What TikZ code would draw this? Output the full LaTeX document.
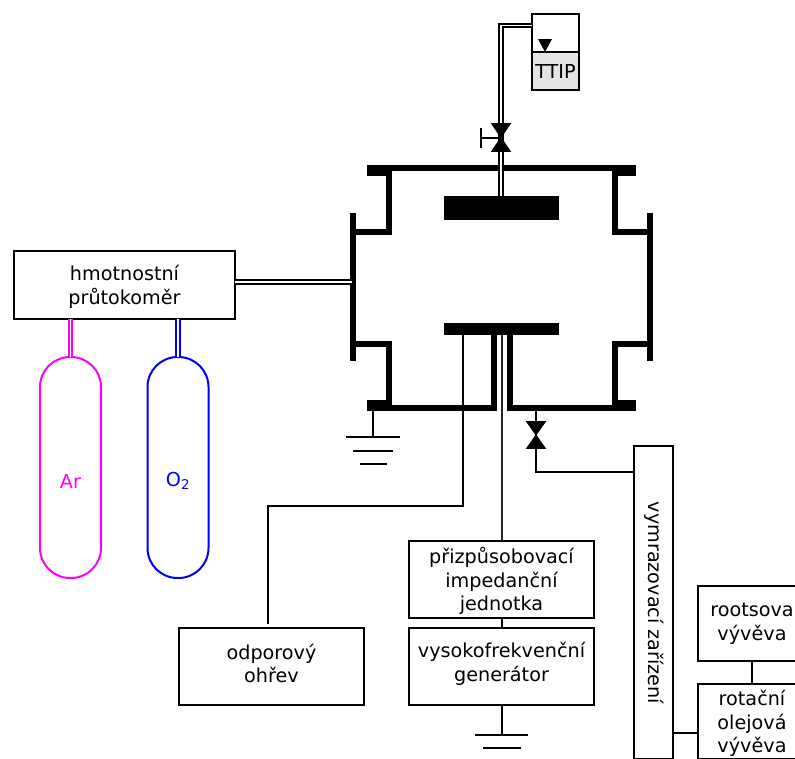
\documentclass[tikz,border=0pt]{standalone}
\usepackage{fontspec}
\setmainfont{DejaVu Sans}
\definecolor{mag}{RGB}{255,0,255}
\tikzset{
  txt/.style={font=\fontsize{19.2}{23.8}\selectfont},
  box/.style={draw,line width=2pt,minimum width=#1,inner sep=0pt,outer sep=0pt,align=center,txt,anchor=north west},
  boxtext/.style={label={[txt,align=center,yshift=#1]center:\boxbody}},
  wall/.style={line width=6pt,line cap=butt,line join=miter},
  pipe/.style={double=white,line width=2pt,double distance=1.7pt},
  thin/.style={line width=2pt},
  valve/.style={fill,draw,line width=0.8pt,line join=miter},
  bottle/.style={draw,line width=2pt,rounded corners=30pt,minimum width=61pt,minimum height=221pt,inner sep=0pt,outer sep=0pt,txt}
}
\begin{document}
\begin{tikzpicture}[x=1pt,y=-1pt]
\useasboundingbox (0,0) rectangle (795,758);
\clip (0,0) rectangle (795,758);
% chamber walls
\draw[wall] (367,168) -- (636,168);
\draw[wall] (367,173) -- (391,173);
\draw[wall] (612,173) -- (636,173);
\draw[wall] (388.5,168) -- (388.5,231.5) -- (353,231.5);
\draw[wall] (615,168) -- (615,231.5) -- (650,231.5);
\draw[wall] (353,213) -- (353,361);
\draw[wall] (650,213) -- (650,361);
\draw[wall] (353,343.5) -- (388.5,343.5) -- (388.5,407.5);
\draw[wall] (650,343.5) -- (615,343.5) -- (615,407.5);
\draw[wall] (367,407.5) -- (493.5,407.5) -- (493.5,333);
\draw[wall] (636,407.5) -- (509.5,407.5) -- (509.5,333);
\draw[wall] (367,402.5) -- (391,402.5);
\draw[wall] (612,402.5) -- (636,402.5);
% electrodes
\node[fill=black,minimum width=115pt,minimum height=24pt,inner sep=0pt,outer sep=0pt] (top) at (501.5,208) {};
\node[fill=black,minimum width=115pt,minimum height=12pt,inner sep=0pt,outer sep=0pt] (bot) at (501.5,329) {};
% tank
\node[box,minimum width=47pt,minimum height=76pt] (tank) at (532,14) {};
\node[box,fill=black!10,minimum width=47pt,minimum height=38pt] (ttip) at (532,52) {TTIP};
\fill (538,39) -- (552,39) -- (545,52) -- cycle;
% gas feed
\coordinate (tankin) at (532,25.5);
\coordinate (elev) at (501,25.5);
\draw[pipe] (tankin) -- (elev) -- (top.north -| elev);
% top valve
\path[valve] (491.5,123.5) -- (510.5,123.5) -- (491.5,151.5) -- (510.5,151.5) -- cycle;
\draw[thin] (501,138) -- (481,138);
\draw[thin] (481,128) -- (481,148);
% bottom pump valve
\node[box,minimum width=39pt,minimum height=312.7pt] (vym) at (634,446) {};
\node[rotate=-90,txt] at (654,603) {vymrazovací zařízení};
\draw[thin] (536,407) -- (536,472) -- (vym.north west |- 0,472);
\path[valve] (526.5,421.5) -- (545.5,421.5) -- (526.5,448.5) -- (545.5,448.5) -- cycle;
% ground chamber
\coordinate (g1) at (373,437);
\draw[thin] (373,407) -- (g1);
\draw[thin] (346,437) -- (400,437);
\draw[thin] (353,451) -- (393,451);
\draw[thin] (360,464) -- (387,464);
% heater
\node[box,minimum width=185pt,minimum height=77pt,label={[txt,align=center,yshift=3pt]center:odporový\\ohřev}] (ohrev) at (179,628) {};
\draw[thin] (463,335) -- (463,505.5) -- (268,505.5) -- (268,624);
% rf
\node[box,minimum width=185pt,minimum height=77pt,label={[txt,align=center,yshift=-1.5pt]center:přizpůsobovací\\impedanční\\jednotka}] (imp) at (409,541) {};
\node[box,minimum width=185pt,minimum height=77pt,label={[txt,align=center,yshift=3pt]center:vysokofrekvenční\\generátor}] (gen) at (409,628) {};
\draw[thin,black!85] (501.5,335) -- (501.5,541);
\draw[thin] (501.5,618) -- (501.5,628);
\draw[thin] (501.5,705) -- (501.5,735);
\draw[thin] (475,735) -- (528,735);
\draw[thin] (483,748) -- (521,748);
% mass flow
\node[box,minimum width=221pt,minimum height=68pt,label={[txt,align=center,yshift=-2pt]center:hmotnostní\\průtokoměr}] (mfc) at (14,251) {};
\draw[pipe] (mfc.east |- 0,282) -- (352,282);
\node[bottle,draw=mag] (ar) at (70.5,467.5) {};
\node[bottle,draw=blue] (o2) at (178,467.5) {};
\node[txt,text=mag] at (70.5,481) {Ar};
\node[txt,text=blue] at (178,481) {O\textsubscript{2}};
\draw[pipe,mag] (ar.north) -- (ar.north |- mfc.south);
\draw[pipe,blue] (o2.north) -- (o2.north |- mfc.south);
% pumps
\node[box,minimum width=108pt,minimum height=75pt] (root) at (698,586) {rootsova\\vývěva};
\node[box,minimum width=108pt,minimum height=74.7pt,label={[txt,align=center,yshift=-2pt]center:rotační\\olejová\\vývěva}] (rot) at (698,684) {};
\draw[thin] (752,661) -- (752,684);
\draw[thin] (673,733) -- (698,733);
\end{tikzpicture}
\end{document}
